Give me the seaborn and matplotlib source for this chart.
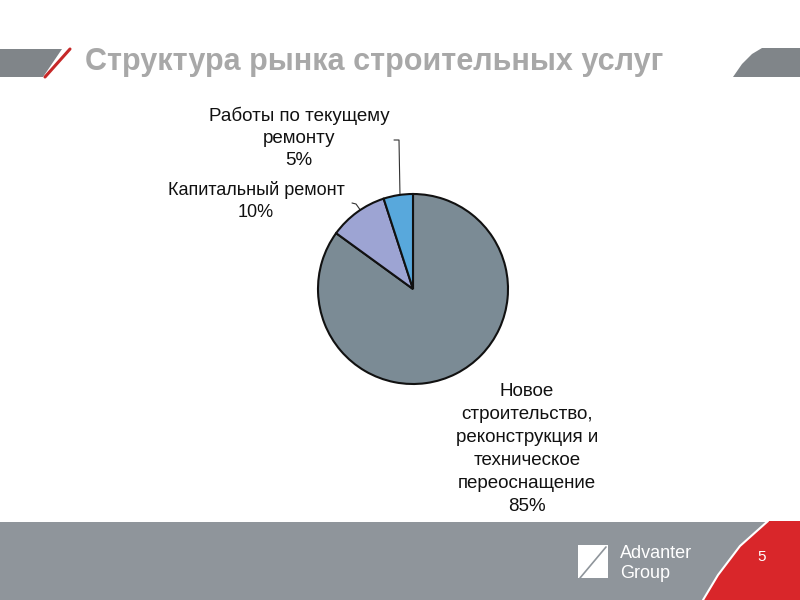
import matplotlib.pyplot as plt
import matplotlib.patches as mpatches
import seaborn as sns

# data
title = 'Структура рынка строительных услуг'
labels = ['Новое\nстроительство,\nреконструкция и\nтехническое\nпереоснащение\n85%',
          'Капитальный ремонт\n10%',
          'Работы по текущему\nремонту\n5%']
shares = [85, 10, 5]
colors = ['#7b8b95', '#9da4d3', '#58a8dc']

sns.set_theme(style='white')
plt.rcParams['font.family'] = ['Liberation Sans', 'DejaVu Sans']

fig = plt.figure(figsize=(8, 6), dpi=100)
fig.patch.set_facecolor('white')

# background in pixel coords
bg = fig.add_axes([0, 0, 1, 1])
bg.set_xlim(0, 800)
bg.set_ylim(600, 0)
bg.axis('off')

# top bar
bg.add_patch(mpatches.Polygon([(0, 49), (62, 49), (43, 77), (0, 77)], color='#808589', lw=0))
bg.plot([70, 45], [49, 77], color='#c62828', lw=2.2)
bg.add_patch(mpatches.Polygon([(762, 48), (800, 48), (800, 77), (733, 77),
                               (742, 64), (752, 54)], color='#808589', lw=0))
bg.text(85, 62, title, fontsize=22, fontweight='bold', color='#a8a8a8', va='center', ha='left')

# bottom band
bg.add_patch(mpatches.Rectangle((0, 522), 800, 78, color='#8f959b', lw=0))
bg.add_patch(mpatches.Polygon([(768, 521), (800, 521), (800, 600), (703, 600),
                               (718, 575), (740, 546)], color='#d9262a', lw=0))
bg.plot([768, 740, 718, 703], [521, 546, 575, 600], color='white', lw=1.5)
bg.add_patch(mpatches.Rectangle((578, 545), 30, 33, color='white', lw=0))
bg.plot([580, 606], [578, 547], color='#8f959b', lw=1.2)
bg.text(620, 553, 'Advanter', fontsize=13, color='white', va='center')
bg.text(620, 573, 'Group', fontsize=13, color='white', va='center')
bg.text(757, 557, '5', fontsize=11, color='white', va='center')

# labels and leader lines
bg.text(299, 138, labels[2], fontsize=13.5, ha='center', va='center', linespacing=1.4, color='#111111')
bg.text(256, 201, labels[1], fontsize=13, ha='center', va='center', linespacing=1.45, color='#111111')
bg.text(527, 449, labels[0], fontsize=13.5, ha='center', va='center', linespacing=1.45, color='#111111')
bg.plot([394, 399, 400], [140, 140, 196], color='#333333', lw=0.8)
bg.plot([352, 356, 361], [203, 204, 211], color='#333333', lw=0.8)

# pie
ax = fig.add_axes([(413 - 100) / 800, (600 - 289 - 100) / 600, 200 / 800, 200 / 600])
ax.pie(shares, colors=colors, startangle=90, counterclock=False, radius=0.95,
       wedgeprops=dict(edgecolor='#111111', linewidth=1.5))
ax.set_xlim(-1, 1)
ax.set_ylim(-1, 1)
ax.set_aspect('equal')
ax.axis('off')

fig.savefig('out.png', dpi=100)
